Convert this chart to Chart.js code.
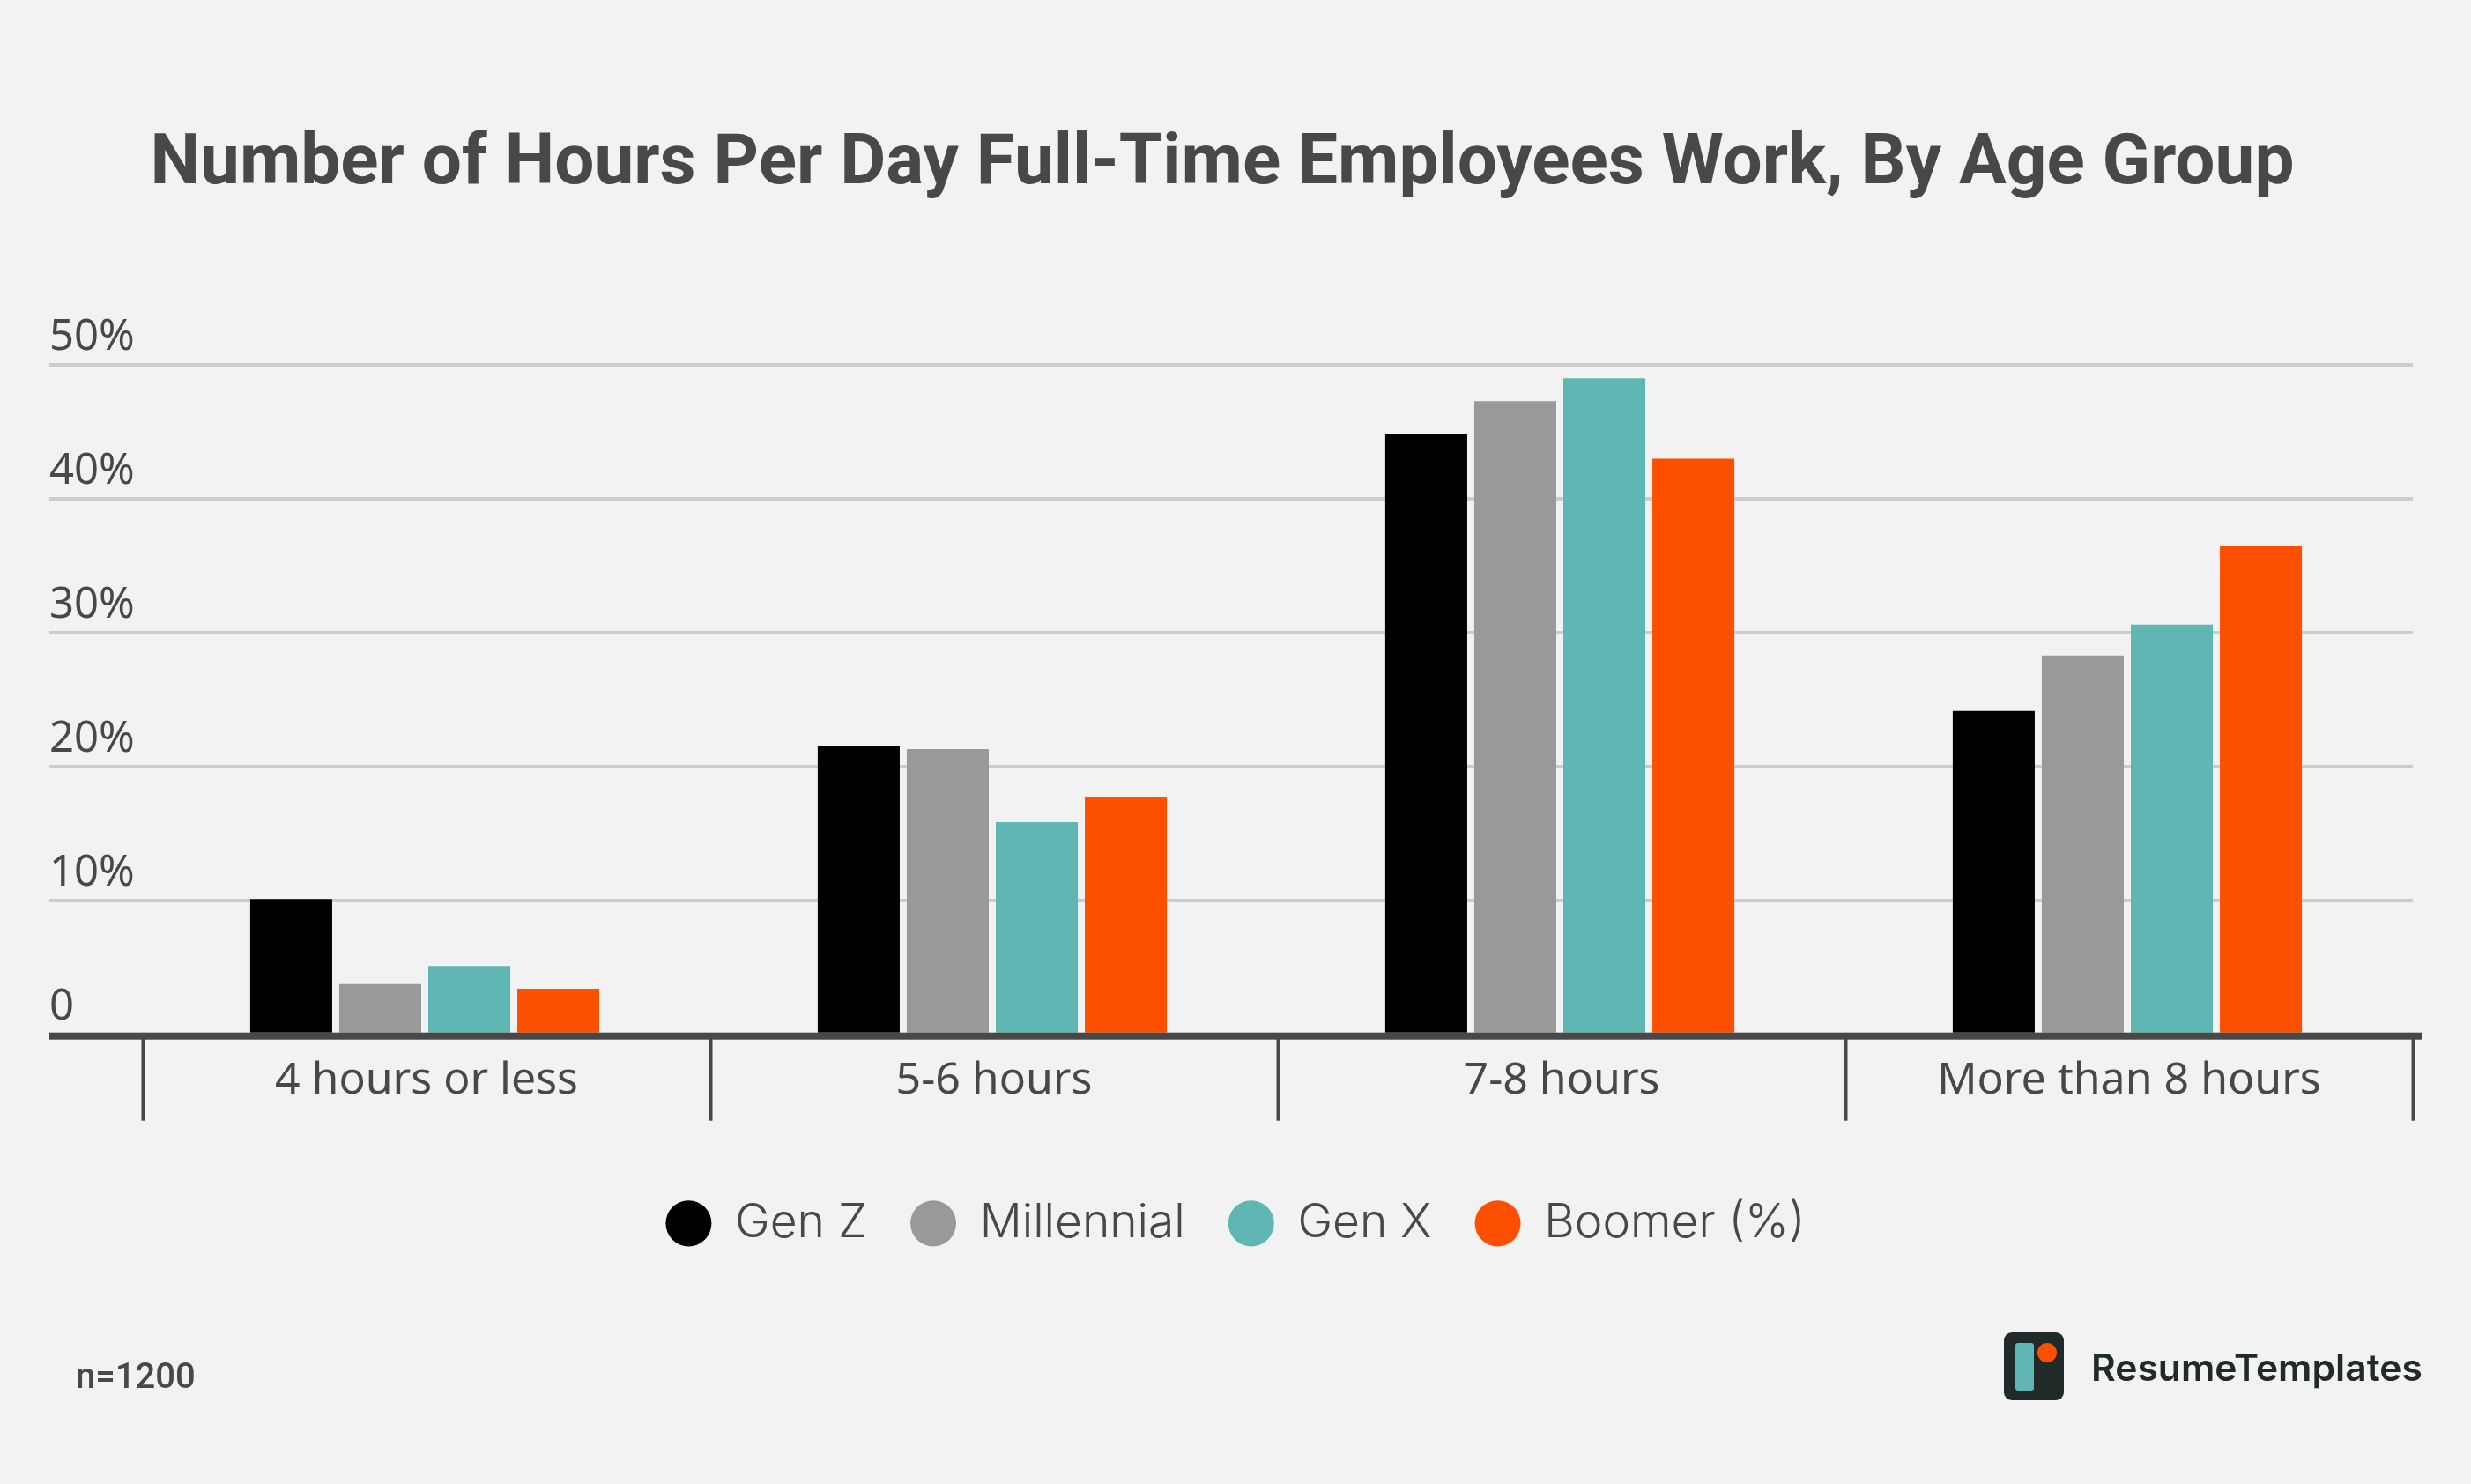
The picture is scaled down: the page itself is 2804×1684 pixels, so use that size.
<!DOCTYPE html>
<html>
<head>
<meta charset="utf-8">
<title>Number of Hours Per Day Full-Time Employees Work, By Age Group</title>
<script src="https://cdn.jsdelivr.net/npm/chart.js@4/dist/chart.umd.min.js"></script>
<style>
html, body { margin: 0; padding: 0; background: #f2f2f2; }
#wrap { position: relative; width: 2804px; height: 1684px; overflow: hidden; }
#chart { position: absolute; left: 0; top: 0; }
#note { position: absolute; left: 86px; top: 1538px; font: 500 40px/47px Roboto, sans-serif; color: #484848; }
#logoBox { position: absolute; left: 2274px; top: 1512px; width: 68px; height: 77px; border-radius: 9px; background: #202a28; }
#logoBar { position: absolute; left: 13px; top: 12px; width: 21px; height: 54px; border-radius: 3px; background: #60b6b3; }
#logoDot { position: absolute; left: 38px; top: 12px; width: 22px; height: 22px; border-radius: 50%; background: #fc4f00; }
#logoText { position: absolute; left: 2373px; top: 1526px; font: 600 42.6px/52px Inter, sans-serif; color: #202a28; }
</style>
</head>
<body>
<div id="wrap">
	<canvas id="chart" width="2804" height="1684"></canvas>
	<div id="note">n=1200</div>
	<div id="logoBox"><div id="logoBar"></div><div id="logoDot"></div></div>
	<div id="logoText">ResumeTemplates</div>
</div>
<script>
var chartTitle = 'Number of Hours Per Day Full-Time Employees Work, By Age Group';
var categories = ['4 hours or less', '5-6 hours', '7-8 hours', 'More than 8 hours'];
var genZ = [10.1, 21.5, 44.8, 24.15];
var millennial = [3.75, 21.3, 47.3, 28.3];
var genX = [5.1, 15.85, 49.0, 30.6];
var boomer = [3.4, 17.75, 43.0, 36.45];

var inkColor = '#484848';
var gridColor = '#cccccc';

// the reference has things a little off centre, chart.js centres them on the box
var nudge = {
	id: 'nudge',
	afterLayout: function(chart) {
		chart.titleBlock.left -= 10;
		chart.titleBlock.right -= 10;
		chart.legend.left += 5;
		chart.legend.right += 5;
	},
	beforeDatasetsDraw: function(chart) {
		chart.ctx.save();
		chart.ctx.translate(-2, 0);
	},
	afterDatasetsDraw: function(chart) {
		chart.ctx.restore();
		// thick base line, runs past the plot area on both sides
		var y = chart.scales.y.getPixelForValue(0);
		chart.ctx.save();
		chart.ctx.fillStyle = inkColor;
		chart.ctx.fillRect(chart.scales.y.left, y - 2, chart.scales.x.right + 10 - chart.scales.y.left, 8);
		chart.ctx.restore();
	}
};

var ctx = document.getElementById('chart');
var chart = new Chart(ctx, {
	type: 'bar',
	data: {
		labels: categories,
		datasets: [
			{ label: 'Gen Z', data: genZ, backgroundColor: '#000000' },
			{ label: 'Millennial', data: millennial, backgroundColor: '#999999' },
			{ label: 'Gen X', data: genX, backgroundColor: '#60b6b3' },
			{ label: 'Boomer (%)', data: boomer, backgroundColor: '#fc4f00' }
		]
	},
	plugins: [nudge],
	options: {
		responsive: false,
		animation: false,
		devicePixelRatio: 1,
		categoryPercentage: 0.6276,
		barPercentage: 0.921,
		layout: { padding: { left: 56, right: 66, top: 0, bottom: 259 } },
		plugins: {
			title: {
				display: true,
				text: chartTitle,
				color: inkColor,
				font: { family: 'Roboto', size: 80.1, weight: 700, lineHeight: 1.2 },
				padding: { top: 140, bottom: 178 }
			},
			legend: {
				position: 'bottom',
				labels: {
					usePointStyle: true,
					pointStyle: 'circle',
					pointStyleWidth: 52,
					boxHeight: 37,
					padding: 49,
					color: inkColor,
					font: { family: 'Inter', size: 53.3, weight: 300, lineHeight: 1.2 }
				}
			},
			tooltip: { enabled: false }
		},
		scales: {
			x: {
				offset: true,
				afterFit: function(scale) { scale.height = 139; },
				border: { display: false },
				grid: { drawOnChartArea: false, tickLength: 98, tickWidth: 4, tickColor: inkColor, offset: true },
				ticks: {
					padding: -75,
					maxRotation: 0,
					autoSkip: false,
					color: inkColor,
					font: { family: 'Noto Sans', size: 50 }
				}
			},
			y: {
				min: 0,
				max: 50,
				afterFit: function(scale) { scale.width = 106; },
				border: { display: false },
				grid: { color: gridColor, lineWidth: 4, tickLength: 106, tickWidth: 4, tickColor: gridColor },
				ticks: {
					stepSize: 10,
					crossAlign: 'far',
					labelOffset: -31,
					color: inkColor,
					font: { family: 'Noto Sans', size: 49 },
					callback: function(value) { return value === 0 ? '0' : value + '%'; }
				}
			}
		}
	}
});
</script>
</body>
</html>
